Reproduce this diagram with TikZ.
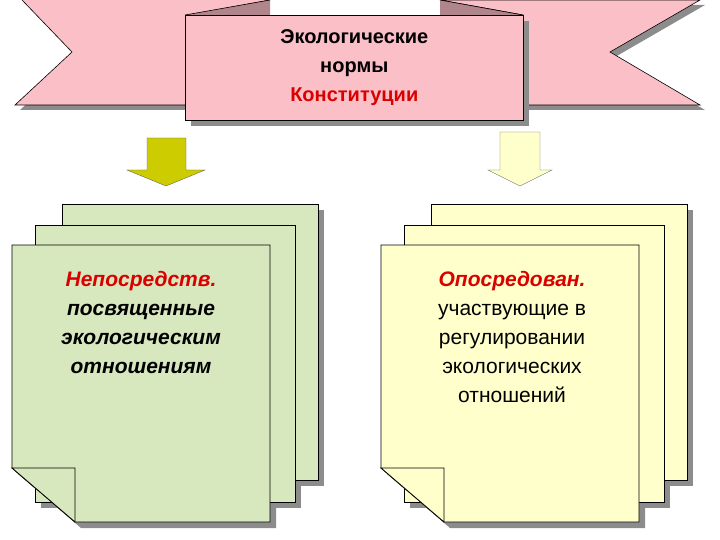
\documentclass[tikz,border=0pt]{standalone}
\usepackage{fontspec}
\setmainfont{Liberation Sans}
\definecolor{pk}{HTML}{FBBFC8}
\definecolor{gr}{HTML}{D8E8BE}
\definecolor{yl}{HTML}{FFFFCC}
\definecolor{ol}{HTML}{CCCC00}
\begin{document}
\begin{tikzpicture}[x=1pt,y=-1pt,
  pinkf/.style={fill=pk,draw=black,line width=0.6pt},
  grn/.style={fill=gr,draw=black,line width=0.8pt},
  ylw/.style={fill=yl,draw=black,line width=0.8pt},
  txt/.style={align=center,font=\fontsize{21}{29}\selectfont}]
\useasboundingbox (0,0) rectangle (720,540);
% ribbons
\fill[black!45] (27,5) -- (77,57) -- (20,110) -- (195,110) -- (195,5) -- cycle;
\fill[black!45] (445,5) -- (705,5) -- (615,57) -- (705,110) -- (528,110) -- cycle;
\draw[pinkf] (22,0) -- (72,52) -- (15,105) -- (190,105) -- (190,15) -- (270,0);
\draw[pinkf] (440,0) -- (700,0) -- (610,52) -- (700,105) -- (523,105) -- (523,15) -- cycle;
\fill[pk!70!black] (185,15) -- (270,0) -- (270,15) -- cycle;
\draw[line width=0.6pt] (185,15) -- (270,0);
\fill[pk!70!black] (523,15) -- (440,0) -- (440,15) -- cycle;
\draw[line width=0.6pt] (523,15) -- (440,0);
\fill[black!45] (191,21) rectangle (529,126);
\node[pinkf,minimum width=338,minimum height=105,anchor=north west,inner sep=0] (box) at (185,15) {};
\node[align=center,font=\bfseries\fontsize{20}{29}\selectfont] (title) at (box.center) {Экологические\\нормы\\\textcolor{red!85!black}{Конституции}};
% arrows
\draw[fill=ol,draw=black!60] (147,138) -- (186,138) -- (186,170) -- (205,170) -- (166,186) -- (127,170) -- (147,170) -- cycle;
\draw[fill=yl,draw=black!60] (500,132) -- (540,132) -- (540,170) -- (552,170) -- (520,186) -- (488,170) -- (500,170) -- cycle;
% stacks
\foreach \dx in {0,369}{
 \begin{scope}[xshift=\dx]
 \fill[black!45] (68,210) rectangle (324,486);
 \fill[black!45] (41,231) rectangle (301,508);
 \fill[black!45] (18,251) -- (276,251) -- (276,528) -- (81,528) -- (18,474) -- cycle;
 \end{scope}}
\draw[grn] (62,204) rectangle (318,480);
\draw[grn] (35,225) rectangle (295,502);
\draw[grn] (12,245) -- (270,245) -- (270,522) -- (75,522) -- (12,468) -- cycle;
\draw[grn] (12,468) -- (75,468) -- (75,522) -- cycle;
\draw[ylw] (431,204) rectangle (687,480);
\draw[ylw] (404,225) rectangle (664,502);
\draw[ylw] (381,245) -- (639,245) -- (639,522) -- (444,522) -- (381,468) -- cycle;
\draw[ylw] (381,468) -- (444,468) -- (444,522) -- cycle;
\node[txt,font=\bfseries\itshape\fontsize{21}{29}\selectfont,anchor=north] (lt) at (141,268) {\textcolor{red!85!black}{Непосредств.}\\посвященные\\экологическим\\отношениям};
\node[txt,anchor=north] (rt) at (512,268) {\textcolor{red!85!black}{\bfseries\itshape Опосредован.}\\участвующие в\\регулировании\\экологических\\отношений};
\end{tikzpicture}
\end{document}
